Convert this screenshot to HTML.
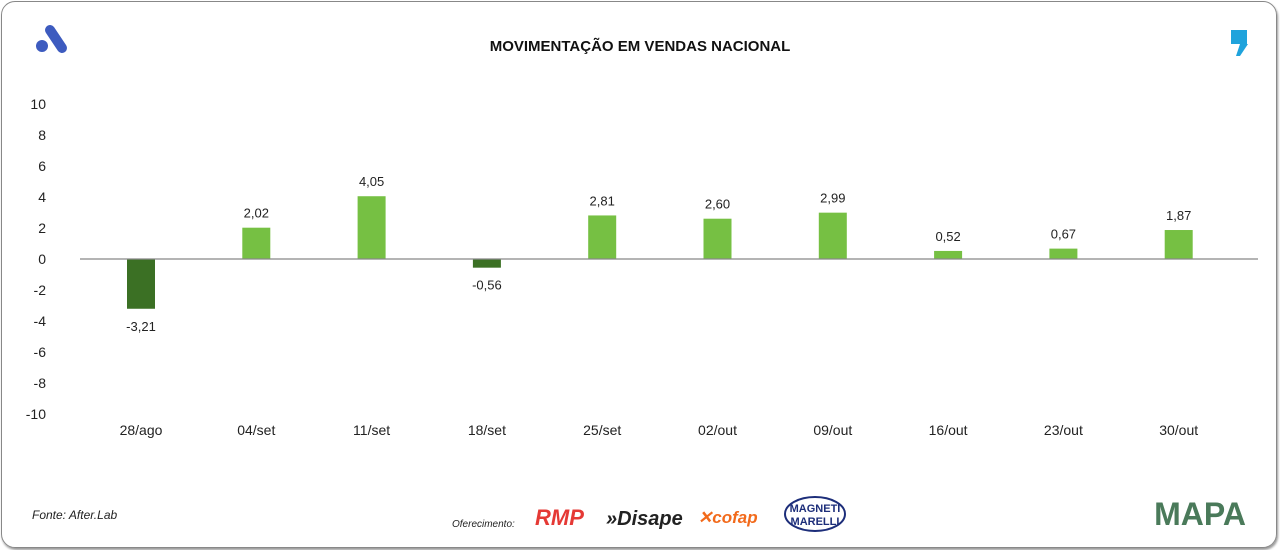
<!DOCTYPE html>
<html><head><meta charset="utf-8"><style>
body{margin:0;width:1280px;height:550px;background:#fff;font-family:"Liberation Sans",sans-serif;overflow:hidden}
#frame{position:absolute;left:1px;top:1px;width:1274px;height:545px;border:1.5px solid #888;border-radius:14px;box-shadow:1px 2px 2px #999}
</style></head><body>
<div id="frame"></div>
<svg width="1280" height="550" style="position:absolute;left:0;top:0" id="chart">
<g><circle cx="42" cy="46" r="6" fill="#3d5bbf"/><line x1="50" y1="30" x2="62" y2="48" stroke="#3d5bbf" stroke-width="10" stroke-linecap="round"/></g>
<text x="640" y="51" text-anchor="middle" font-size="15" font-weight="bold" fill="#111">MOVIMENTAÇÃO EM VENDAS NACIONAL</text>
<g><rect x="1231" y="30" width="16" height="14" fill="#1fa3dc"/><path d="M1240 44 L1248 44 L1240 56 L1236 56 Z" fill="#1fa3dc"/></g>
<g id="yaxis"></g>
<g id="bars"></g>
<g id="xaxis"></g>
<text x="32" y="519" font-size="12" font-style="italic" fill="#222">Fonte: After.Lab</text>
<text x="452" y="527" font-size="10" font-style="italic" fill="#222">Oferecimento:</text>
<text x="535" y="525" font-size="22" font-weight="bold" fill="#e53935" font-style="italic">RMP</text>
<text x="606" y="525" font-size="20" font-weight="bold" fill="#222" font-style="italic">»Disape</text>
<text x="698" y="523" font-size="17" font-weight="bold" fill="#f26a1b" font-style="italic">✕cofap</text>
<g><ellipse cx="815" cy="514" rx="30" ry="17" fill="none" stroke="#1d2e7a" stroke-width="2"/><text x="815" y="512" font-size="11" font-weight="bold" text-anchor="middle" fill="#1d2e7a">MAGNETI</text><text x="815" y="525" font-size="11" font-weight="bold" text-anchor="middle" fill="#1d2e7a">MARELLI</text></g>
<text x="1200" y="525" font-size="32" font-weight="bold" text-anchor="middle" fill="#4a7a5a">MAPA</text>
</svg>
<script>
const categories=["28/ago","04/set","11/set","18/set","25/set","02/out","09/out","16/out","23/out","30/out"];
const values=[-3.21,2.02,4.05,-0.56,2.81,2.60,2.99,0.52,0.67,1.87];
const valueLabels=["-3,21","2,02","4,05","-0,56","2,81","2,60","2,99","0,52","0,67","1,87"];
const yTicks=[10,8,6,4,2,0,-2,-4,-6,-8,-10];
const NS="http://www.w3.org/2000/svg";
const y=v=>259-v*15.5;
const x=i=>141+i*115.3;
function mk(tag,attrs,parent,txt){const e=document.createElementNS(NS,tag);for(const k in attrs)e.setAttribute(k,attrs[k]);if(txt!==undefined)e.textContent=txt;parent.appendChild(e);return e;}
const ya=document.getElementById('yaxis'),ba=document.getElementById('bars'),xa=document.getElementById('xaxis');
yTicks.forEach(t=>{const e=mk('text',{x:46,y:y(t)+5,'text-anchor':'end','font-size':14,fill:'#222'},ya,String(t));

});
values.forEach((v,i)=>{
const top=Math.min(y(v),y(0)),h=Math.abs(y(v)-y(0));
const r=mk('rect',{x:x(i)-14,y:top,width:28,height:h,fill:v<0?'#3b7024':'#76c043'},ba);


const ly=v<0?y(v)+22:y(v)-10;
const l=mk('text',{x:x(i),y:ly,'text-anchor':'middle','font-size':13,fill:'#222'},ba,valueLabels[i]);


const c=mk('text',{x:x(i),y:435,'text-anchor':'middle','font-size':14,fill:'#222'},xa,categories[i]);


});
const ax=mk('line',{x1:80,x2:1258,y1:y(0),y2:y(0),stroke:'#888','stroke-width':1.2},xa);


</script>
</body></html>
